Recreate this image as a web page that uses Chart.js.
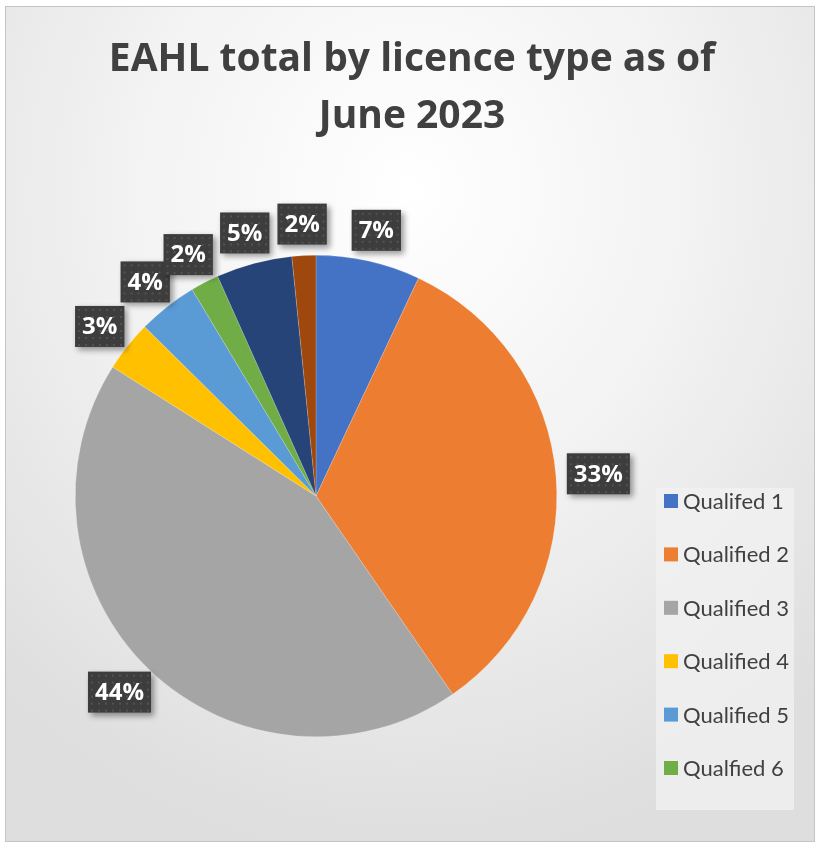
<!DOCTYPE html>
<html>
<head>
<meta charset="utf-8">
<script src="https://cdn.jsdelivr.net/npm/chart.js@4.4.0/dist/chart.umd.min.js"></script>
<style>
    body { margin: 0; background: #ffffff; }
    #wrap {
        position: absolute;
        left: 5px;
        top: 6px;
        width: 808px;
        height: 834px;
        border: 1px solid #c4c4c4;
        background: radial-gradient(ellipse 75% 80% at 50% 22%, #ffffff 0%, #f3f3f3 45%, #dedede 100%);
    }
    canvas { display: block; }
</style>
</head>
<body>
<div id="wrap"><canvas id="licenceChart" width="808" height="834"></canvas></div>
<script>
const chartTitle = ['EAHL total by licence type as of', 'June 2023'];
const licenceTypes = ['Qualifed 1', 'Qualified 2', 'Qualified 3', 'Qualified 4', 'Qualified 5', 'Qualfied 6', 'Qualified 7', 'Qualified 8'];
const licenceShares = [7.0, 33.4, 43.6, 3.4, 4.0, 1.9, 5.1, 1.6];
const sliceColors = ['#4472C4', '#ED7D31', '#A5A5A5', '#FFC000', '#5B9BD5', '#70AD47', '#264478', '#9E480E'];
const legendShown = 6; // the legend box in the original is cut off after six entries

const boldFont = '"Open Sans", Lato, sans-serif';
const legendFont = 'Lato, "Open Sans", sans-serif';

// two-line title centred on the whole canvas (pie sits left of centre)
const titleBlock = {
    id: 'titleBlock',
    afterDraw(chart) {
        const ctx = chart.ctx;
        ctx.save();
        ctx.font = 'bold 39px ' + boldFont;
        ctx.fillStyle = '#404040';
        ctx.textAlign = 'center';
        ctx.textBaseline = 'alphabetic';
        chartTitle.forEach((line, i) => {
            ctx.fillText(line, chart.width / 2 + 2, 64 + i * 57);
        });
        ctx.restore();
    }
};

// dark percentage boxes drawn outside each slice
const pctLabels = {
    id: 'pctLabels',
    afterDatasetsDraw(chart) {
        const ctx = chart.ctx;
        const meta = chart.getDatasetMeta(0);
        const values = chart.data.datasets[0].data;
        const total = values.reduce((a, b) => a + b, 0);
        ctx.save();
        ctx.font = 'bold 24px ' + boldFont;
        meta.data.forEach((arc, i) => {
            const p = arc.getProps(['x', 'y', 'startAngle', 'endAngle', 'outerRadius'], true);
            const mid = (p.startAngle + p.endAngle) / 2;
            const text = Math.round(values[i] / total * 100) + '%';
            const w = ctx.measureText(text).width + 14;
            const h = 41;
            const ax = p.x + Math.cos(mid) * (p.outerRadius + 11);
            const ay = p.y + Math.sin(mid) * (p.outerRadius + 11);
            const cx = ax + Math.cos(mid) * w / 2;
            const cy = ay + Math.sin(mid) * h / 2;
            const bx = cx - w / 2, by = cy - h / 2;

            ctx.shadowColor = 'rgba(0, 0, 0, 0.4)';
            ctx.shadowBlur = 6;
            ctx.shadowOffsetX = 3;
            ctx.shadowOffsetY = 3;
            ctx.fillStyle = '#3d3d3d';
            ctx.fillRect(bx, by, w, h);
            ctx.shadowColor = 'transparent';

            ctx.fillStyle = '#535353';
            for (let dx = 3; dx < w - 1; dx += 7) {
                for (let dy = 3; dy < h - 1; dy += 7) {
                    ctx.fillRect(bx + dx, by + dy, 2, 2);
                }
            }
            ctx.fillStyle = '#ffffff';
            ctx.textAlign = 'center';
            ctx.textBaseline = 'middle';
            ctx.fillText(text, cx, cy + 1);
        });
        ctx.restore();
    }
};

// legend on the right, in its own light box
const sideLegend = {
    id: 'sideLegend',
    afterDraw(chart) {
        const ctx = chart.ctx;
        const left = 650, top = 481, width = 138, height = 322;
        ctx.save();
        ctx.fillStyle = 'rgba(242, 242, 242, 0.75)';
        ctx.fillRect(left, top, width, height);
        ctx.font = '22px ' + legendFont;
        ctx.textBaseline = 'middle';
        for (let i = 0; i < legendShown; i++) {
            const y = top + 13 + i * 53.4;
            ctx.fillStyle = sliceColors[i];
            ctx.fillRect(left + 8, y - 7, 14, 14);
            ctx.fillStyle = '#404040';
            ctx.fillText(chart.data.labels[i], left + 27, y + 1);
        }
        ctx.restore();
    }
};

const ctx = document.getElementById('licenceChart').getContext('2d');
new Chart(ctx, {
    type: 'pie',
    data: {
        labels: licenceTypes,
        datasets: [{
            data: licenceShares,
            backgroundColor: sliceColors,
            borderColor: 'rgba(255, 255, 255, 0.35)',
            borderWidth: 0.5
        }]
    },
    options: {
        responsive: false,
        animation: false,
        layout: {
            padding: { left: 69, right: 257, top: 248, bottom: 104 }
        },
        plugins: {
            legend: { display: false },
            tooltip: { enabled: false },
            title: { display: false }
        }
    },
    plugins: [pctLabels, sideLegend, titleBlock]
});
</script>
</body>
</html>
